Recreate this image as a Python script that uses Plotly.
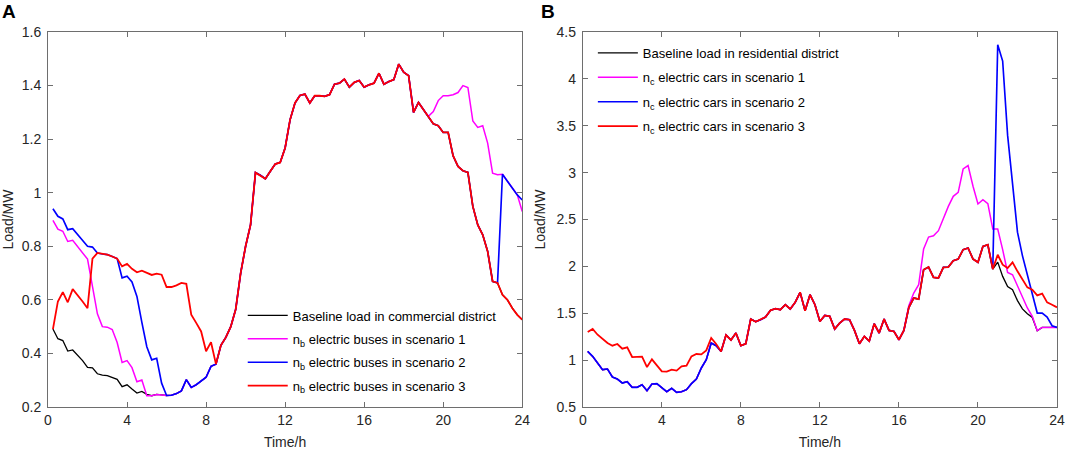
import numpy as np
import plotly.graph_objs as go

# 15-minute samples over one day
TIME_H = np.arange(0.25, 24.01, 0.25)
X_TICKS = [0, 4, 8, 12, 16, 20, 24]

# ---- Panel A: commercial district ----
A_BASELINE = [
    0.491, 0.455, 0.448, 0.409, 0.413, 0.393, 0.373, 0.348, 0.346, 0.324,
    0.319, 0.317, 0.311, 0.303, 0.276, 0.283, 0.267, 0.252, 0.258, 0.247,
    0.242, 0.247, 0.245, 0.243, 0.244, 0.250, 0.260, 0.302, 0.273, 0.283,
    0.297, 0.311, 0.352, 0.360, 0.430, 0.460, 0.500, 0.565, 0.700, 0.800,
    0.880, 1.075, 1.065, 1.052, 1.080, 1.107, 1.113, 1.167, 1.272, 1.335,
    1.363, 1.368, 1.335, 1.362, 1.362, 1.360, 1.366, 1.405, 1.409, 1.424,
    1.394, 1.412, 1.419, 1.394, 1.403, 1.409, 1.446, 1.405, 1.415, 1.422,
    1.480, 1.450, 1.437, 1.300, 1.337, 1.310, 1.285, 1.257, 1.250, 1.225,
    1.225, 1.138, 1.098, 1.082, 1.076, 0.949, 0.880, 0.843, 0.781, 0.669,
    0.663, 0.619, 0.600, 0.569, 0.544, 0.526,
]
# scenario 1: 0.25-5.0 h and 19.5-24 h differ from baseline
A_SC1_MORNING = [
    0.897, 0.864, 0.856, 0.818, 0.822, 0.800, 0.777, 0.752, 0.650, 0.548,
    0.500, 0.498, 0.489, 0.441, 0.366, 0.373, 0.347, 0.294, 0.301, 0.242,
]
A_SC1_EVENING = [
    1.303, 1.344, 1.362, 1.362, 1.366, 1.374, 1.400, 1.393, 1.268, 1.244,
    1.250, 1.185, 1.073, 1.067, 1.069, 1.043, 1.018, 0.992, 0.930,
]
# scenario 2: 0.25-6.0 h and 23-24 h
A_SC2_MORNING = [
    0.940, 0.912, 0.902, 0.862, 0.866, 0.843, 0.822, 0.800, 0.797, 0.775,
    0.771, 0.769, 0.762, 0.754, 0.682, 0.688, 0.667, 0.613, 0.516, 0.425,
    0.376, 0.382, 0.289, 0.243,
]
A_SC2_EVENING = [1.069, 1.043, 1.018, 0.992, 0.973]
# scenario 3: 0.25-8.25 h
A_SC3_MORNING = [
    0.491, 0.594, 0.629, 0.591, 0.640, 0.619, 0.594, 0.569, 0.754, 0.775,
    0.771, 0.769, 0.762, 0.754, 0.725, 0.734, 0.716, 0.703, 0.709, 0.700,
    0.693, 0.698, 0.694, 0.648, 0.648, 0.654, 0.663, 0.660, 0.545, 0.514,
    0.482, 0.408, 0.442,
]

# ---- Panel B: residential district ----
B_BASELINE = [
    1.093, 1.040, 0.969, 0.898, 0.905, 0.820, 0.798, 0.756, 0.770, 0.710,
    0.710, 0.738, 0.674, 0.745, 0.749, 0.702, 0.663, 0.699, 0.656, 0.663,
    0.685, 0.749, 0.798, 0.916, 1.005, 1.182, 1.154, 1.093, 1.268, 1.214,
    1.289, 1.154, 1.175, 1.438, 1.410, 1.431, 1.460, 1.531, 1.549, 1.538,
    1.591, 1.545, 1.616, 1.723, 1.527, 1.698, 1.591, 1.413, 1.477, 1.467,
    1.331, 1.395, 1.438, 1.431, 1.317, 1.175, 1.253, 1.203, 1.388, 1.289,
    1.438, 1.317, 1.306, 1.217, 1.317, 1.560, 1.662, 1.651, 1.964, 1.993,
    1.883, 1.876, 1.990, 1.993, 2.060, 2.078, 2.178, 2.196, 2.078, 2.043,
    2.213, 2.231, 1.971, 2.045, 1.893, 1.786, 1.751, 1.635, 1.547, 1.494,
    1.455, 1.314, 1.349, 1.349, 1.349, 1.349,
]
# scenario 1: 16.5-22.75 h
B_SC1_EVENING = [
    1.580, 1.716, 1.805, 2.185, 2.313, 2.327, 2.381, 2.516, 2.640, 2.747,
    2.790, 3.039, 3.075, 2.855, 2.666, 2.712, 2.669, 2.399, 2.399, 2.178,
    1.936, 1.911, 1.787, 1.662, 1.556, 1.467,
]
# scenario 2: 21-24 h
B_SC2_EVENING = [
    4.365, 4.190, 3.400, 2.850, 2.365, 2.115, 1.910, 1.716, 1.502, 1.502,
    1.460, 1.367, 1.349,
]
# scenario 3: 0.25-6.75 h and 21-24 h
B_SC3_MORNING = [
    1.300, 1.332, 1.271, 1.225, 1.182, 1.154, 1.172, 1.122, 1.136, 1.033,
    1.037, 1.037, 0.926, 1.008, 0.944, 0.880, 0.877, 0.898, 0.888, 0.934,
    0.940, 1.040, 1.065, 1.061, 1.104, 1.236, 1.172,
]
B_SC3_EVENING = [
    2.124, 2.018, 1.982, 2.043, 1.947, 1.865, 1.776, 1.751, 1.691, 1.709,
    1.616, 1.591, 1.563,
]

COLORS = ["#000000", "#FF00FF", "#0000FF", "#FF0000"]
# later traces slightly wider so the lines underneath don't fringe
WIDTHS = [1.3, 1.5, 1.65, 1.8]
FONT = "Liberation Sans, Arial, sans-serif"
AXIS_COLOR = "#6e6e6e"
TEXT_COLOR = "#262626"


def draw_trace(figure, name, values, color, width, axis, legend):
    figure.add_trace(go.Scatter(
        name=name,
        x=TIME_H,
        y=values,
        mode="lines",
        line={"color": color, "width": width},
        xaxis="x" + axis,
        yaxis="y" + axis,
        legend=legend,
        legendgroup=legend + name,
    ))


def axis_style(**extra):
    style = dict(
        showline=True,
        mirror="ticks",
        linecolor=AXIS_COLOR,
        linewidth=1,
        ticks="inside",
        ticklen=5,
        tickcolor=AXIS_COLOR,
        tickfont={"family": FONT, "size": 14, "color": TEXT_COLOR},
        showgrid=False,
        zeroline=False,
        automargin=False,
        title_font={"family": FONT, "size": 14, "color": TEXT_COLOR},
    )
    style.update(extra)
    return style


def visualize():
    a_sc1 = A_SC1_MORNING + A_BASELINE[20:77] + A_SC1_EVENING
    a_sc2 = A_SC2_MORNING + A_BASELINE[24:91] + A_SC2_EVENING
    a_sc3 = A_SC3_MORNING + A_BASELINE[33:]

    b_sc1 = B_BASELINE[:65] + B_SC1_EVENING + B_BASELINE[91:]
    b_sc2 = B_BASELINE[:83] + B_SC2_EVENING
    b_sc3 = B_SC3_MORNING + B_BASELINE[27:83] + B_SC3_EVENING

    figure = go.Figure()

    names_a = [
        "Baseline load in commercial district",
        "n<sub>b</sub> electric buses in scenario 1",
        "n<sub>b</sub> electric buses in scenario 2",
        "n<sub>b</sub> electric buses in scenario 3",
    ]
    for name, values, color, width in zip(names_a, [A_BASELINE, a_sc1, a_sc2, a_sc3], COLORS, WIDTHS):
        draw_trace(figure, name, values, color, width, "", "legend")

    names_b = [
        "Baseline load in residential district",
        "n<sub>c</sub> electric cars in scenario 1",
        "n<sub>c</sub> electric cars in scenario 2",
        "n<sub>c</sub> electric cars in scenario 3",
    ]
    for name, values, color, width in zip(names_b, [B_BASELINE, b_sc1, b_sc2, b_sc3], COLORS, WIDTHS):
        draw_trace(figure, name, values, color, width, "2", "legend2")

    legend_font = {"family": FONT, "size": 13, "color": "#000000"}
    figure.update_layout(
        width=1065,
        height=450,
        autosize=False,
        plot_bgcolor="white",
        paper_bgcolor="white",
        margin=dict(l=48, r=8, t=32, b=43),
        xaxis=axis_style(domain=[0, 0.47], anchor="y", range=[0, 24],
                         tickvals=X_TICKS, title_text="Time/h", title_standoff=12),
        yaxis=axis_style(domain=[0, 1], anchor="x", range=[0.2, 1.6], dtick=0.2,
                         ticklabelstandoff=3,
                         title_text="Load/MW", title_standoff=7),
        xaxis2=axis_style(domain=[0.53, 1], anchor="y2", range=[0, 24],
                          tickvals=X_TICKS, title_text="Time/h", title_standoff=12),
        yaxis2=axis_style(domain=[0, 1], anchor="x2", range=[0.5, 4.5], dtick=0.5,
                          ticklabelstandoff=3,
                          title_text="Load/MW", title_standoff=7),
        legend=dict(x=0.193, y=0.284, xanchor="left", yanchor="top",
                    bgcolor="rgba(0,0,0,0)", font=legend_font, itemwidth=40,
                    tracegroupgap=3.5),
        legend2=dict(x=0.54, y=0.984, xanchor="left", yanchor="top",
                     bgcolor="rgba(0,0,0,0)", font=legend_font, itemwidth=40,
                     tracegroupgap=4.5),
        annotations=[
            dict(text="<b>A</b>", xref="paper", yref="paper", x=-0.048, y=1.088,
                 xanchor="left", yanchor="top", showarrow=False,
                 font={"family": FONT, "size": 19, "color": "#000000"}),
            dict(text="<b>B</b>", xref="paper", yref="paper", x=0.487, y=1.088,
                 xanchor="left", yanchor="top", showarrow=False,
                 font={"family": FONT, "size": 19, "color": "#000000"}),
        ],
    )

    # drop the default page margin so the figure sits at the window's corner
    figure.write_html(
        "out.html",
        config={"displayModeBar": False},
        post_script="document.body.style.margin = '0';",
    )


if __name__ == "__main__":
    visualize()
